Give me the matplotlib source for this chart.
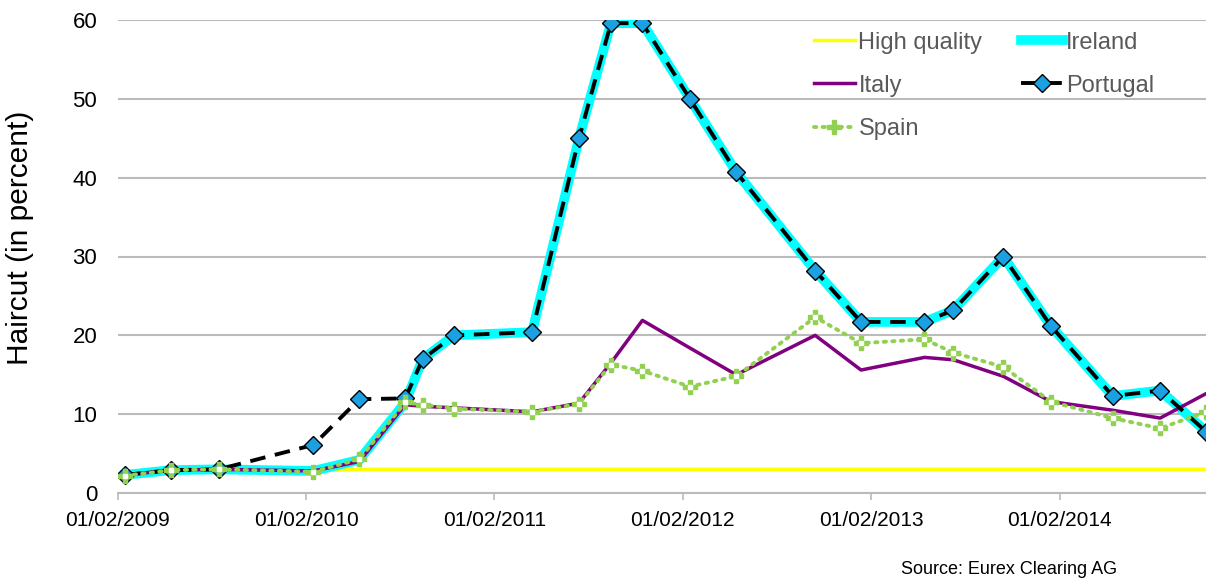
import matplotlib
matplotlib.use("Agg")
import matplotlib.pyplot as plt
import matplotlib.dates as mdates
import numpy as np

dates = ["2009-02-15", "2009-05-15", "2009-08-15", "2010-02-15", "2010-05-15",
         "2010-08-12", "2010-09-15", "2010-11-15", "2011-04-15", "2011-07-15",
         "2011-09-15", "2011-11-15", "2012-02-15", "2012-05-15", "2012-10-15",
         "2013-01-12", "2013-05-15", "2013-07-10", "2013-10-15", "2014-01-15",
         "2014-05-15", "2014-08-15", "2014-11-12"]
high_quality = [2.3, 2.9, 3.0, 2.8, 3.0, 3.0, 3.0, 3.0, 3.0, 3.0, 3.0, 3.0, 3.0,
                3.0, 3.0, 3.0, 3.0, 3.0, 3.0, 3.0, 3.0, 3.0, 3.0]
ireland = [2.3, 2.9, 3.0, 2.8, 4.2, 11.5, 17.0, 20.0, 20.4, 45.0, 59.6, 59.6, 50.0,
           40.7, 28.2, 21.7, 21.7, 23.2, 30.0, 21.2, 12.3, 13.0, 7.8]
italy = [2.3, 2.9, 3.0, 2.8, 4.0, 11.2, 11.0, 10.8, 10.3, 11.4, 16.5, 21.9, 18.4,
         15.0, 20.0, 15.6, 17.2, 16.9, 14.8, 11.6, 10.5, 9.5, 12.6]
portugal = [2.3, 2.9, 3.0, 6.1, 11.9, 12.0, 17.0, 20.0, 20.4, 45.0, 59.6, 59.6, 50.0,
            40.7, 28.2, 21.7, 21.7, 23.2, 30.0, 21.2, 12.3, 13.0, 7.8]
spain = [2.2, 2.9, 3.0, 2.7, 4.3, 11.5, 11.2, 10.7, 10.3, 11.3, 16.3, 15.5, 13.5,
         14.8, 22.3, 19.0, 19.5, 17.8, 16.0, 11.6, 9.5, 8.2, 10.3]
year_ticks = ["2009-02-01", "2010-02-01", "2011-02-01", "2012-02-01",
              "2013-02-01", "2014-02-01"]

x = [np.datetime64(d) for d in dates]
xt = [np.datetime64(d) for d in year_ticks]

FONT = ["Liberation Sans", "DejaVu Sans"]

fig = plt.figure(figsize=(12.06, 5.82), dpi=100)
ax = fig.add_axes([118/1206, 1-493/582, 1-118/1206, (493-20)/582])

grid_c = "#BBBBBB"
ax.plot(x, high_quality, color="#FFFF00", lw=2.5, label="High quality", zorder=3)
ax.plot(x, ireland, color="#00FFFF", lw=7, label="Ireland", zorder=3, solid_joinstyle="round")
ax.plot(x, italy, color="#800080", lw=2.5, label="Italy", zorder=4)
ax.plot(x, portugal, color="black", lw=2.8, ls=(0, (4, 2.5)), marker="D", ms=9,
        mfc="#1BA1E2", mec="black", mew=1.0, label="Portugal", zorder=5)
ax.plot(x, spain, color="#92D050", lw=2.8, ls=(0, (0.6, 1.6)), dash_capstyle="round",
        marker="P", ms=10, mfc="#92D050", mec="#92D050", label="Spain", zorder=6)
ax.plot(x, spain, ls="none", marker="s", ms=2.5, mfc="white", mec="white", zorder=7)

ax.set_ylim(0, 60)
ax.set_yticks(range(0, 61, 10))
ax.set_xlim(np.datetime64("2009-02-01"), np.datetime64("2014-11-12"))
ax.set_xticks(xt)
ax.xaxis.set_major_formatter(mdates.DateFormatter("%d/%m/%Y"))
ax.grid(axis="y", color=grid_c, lw=1.5, zorder=0)
ax.set_axisbelow(True)
for s in ["left", "right", "top"]:
    ax.spines[s].set_visible(False)
ax.spines["bottom"].set_color(grid_c)
ax.spines["bottom"].set_linewidth(1.5)
ax.tick_params(axis="y", length=0, labelsize=16, pad=15)
ax.tick_params(axis="x", length=5, width=1.2, color=grid_c, labelsize=15, pad=8)
for lab in ax.get_xticklabels() + ax.get_yticklabels():
    lab.set_family(FONT)
ax.set_ylabel("Haircut (in percent)", fontsize=21.5, family=FONT)
ax.yaxis.set_label_coords((34-118)/1088, (493-238)/473)

h, l = ax.get_legend_handles_labels()
order = [0, 2, 4, 1, 3]
leg = ax.legend([h[i] for i in order], [l[i] for i in order], ncol=2, frameon=False,
                loc="upper left", bbox_to_anchor=(0.6198, 1.0206),
                prop={"family": FONT, "size": 17},
                handlelength=1.75, handletextpad=0.15, columnspacing=1.65, labelspacing=0.9)
for t in leg.get_texts():
    t.set_color("#595959")

fig.text(1117/1206, 1-570/582, "Source: Eurex Clearing AG", ha="right", va="center",
         fontsize=13, family=FONT)

fig.savefig("out.png", dpi=100)
